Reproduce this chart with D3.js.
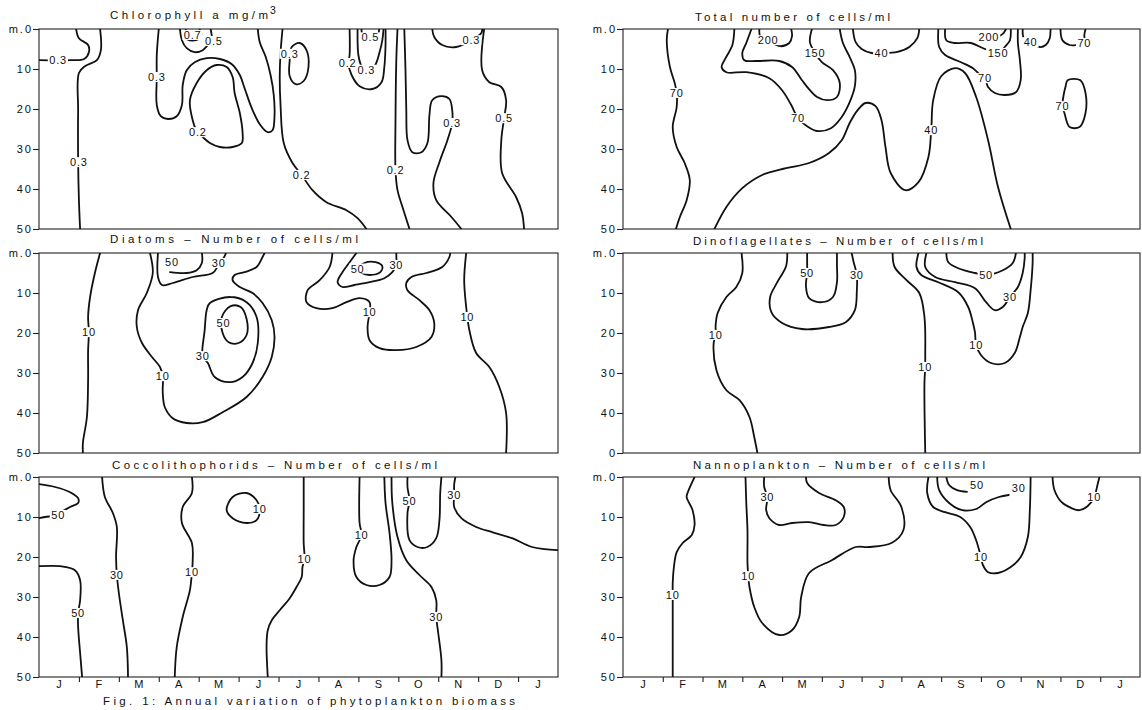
<!DOCTYPE html>
<html>
<head>
<meta charset="utf-8">
<script src="https://cdn.jsdelivr.net/npm/d3@7"></script>
<style>
  body { margin: 0; background: #fff; }
  svg { display: block; }
  text { font-family: "Liberation Sans", Arial, sans-serif; fill: #111; }
</style>
</head>
<body>
<svg id="fig" width="1142" height="710"></svg>
<script>
// x = months since 1 January (0..13), y = depth in metres (0..50)
var months = ["J", "F", "M", "A", "M", "J", "J", "A", "S", "O", "N", "D", "J"];
var depthTicks = [0, 10, 20, 30, 40, 50];
var depthLabels = ["m.0", "10", "20", "30", "40", "50"];
var dinoDepthLabels = ["m.0", "10", "20", "30", "40", "0"];

// every isoline: [value, points [month, depth], label position [month, depth], closed]
var chlorophyll = [
  ["0.3", [[0.93,0],[1.0,2.3],[1.23,4],[1.25,5.8],[1.13,7.5],[0.78,7.8],[0,7.8]], [0.48,7.8], false],
  ["0.3", [[1.53,0],[1.55,5.3],[1.45,7.8],[1.15,9.3],[1.0,11],[0.98,20.3],[0.98,32.8],[1.0,42.8],[1.03,50]], [1.0,33.3], false],
  ["0.7", [[3.68,0],[3.64,1.5],[3.72,2.6],[3.85,2.9],[4.0,2.5],[4.07,1.3],[4.02,0]], [3.85,1.5], false],
  ["0.5", [[3.53,0],[3.58,2.8],[3.7,4.8],[3.9,5.8],[4.1,5.3],[4.23,4],[4.33,2.8],[4.32,1.2],[4.3,0]], [4.38,3.0], false],
  ["0.3", [[3.0,0],[2.95,6.5],[2.95,12],[2.95,19],[3.05,21.8],[3.23,22.5],[3.45,21.8],[3.58,19],[3.6,14],[3.7,10.3],[3.9,8.3],[4.2,7.3],[4.53,7.5],[4.83,8.8],[5.03,11.5],[5.15,14.8],[5.33,19.8],[5.53,23.8],[5.73,25.8],[5.85,25.3],[5.9,21.5],[5.88,16.5],[5.8,11.5],[5.68,7],[5.53,3.3],[5.48,0]], [2.95,12], false],
  ["0.2", [[3.83,22],[3.78,17.8],[3.95,13.5],[4.2,10.3],[4.45,9],[4.7,9.5],[4.85,12],[4.9,16],[5.03,21],[5.1,26],[5.08,28.5],[4.85,29.5],[4.53,29.5],[4.28,28.5],[4.1,27],[3.95,25.5]], [3.98,25.8], true],
  ["0.2", [[6.1,0],[6.05,6],[6.03,12],[6.05,19],[6.13,28.5],[6.35,33.5],[6.58,36.5],[6.85,40.3],[7.2,43.3],[7.7,45.3],[7.98,47.3],[8.2,50]], [6.58,36.5], false],
  ["0.3", [[6.28,7.8],[6.33,4.5],[6.53,3.5],[6.7,5.3],[6.75,9.5],[6.63,13],[6.43,13.8],[6.28,11.8]], [6.28,6.2], true],
  ["0.2", [[7.78,0],[7.78,6.5],[7.75,8.5],[7.83,11.5],[8.03,14.3],[8.35,15],[8.58,13.3],[8.65,9.5],[8.68,4],[8.68,0]], [7.73,8.5], false],
  ["0.3", [[7.98,0],[8.0,6.5],[8.08,9.3],[8.18,10.3],[8.4,9.3],[8.53,5.8],[8.6,2.8],[8.63,0]], [8.2,10.2], false],
  ["0.5", [[8.08,0],[8.1,1.6],[8.22,2.6],[8.4,2.4],[8.5,1.2],[8.52,0]], [8.3,2.1], false],
  ["0.2", [[8.98,0],[8.95,7.8],[8.93,22.8],[8.93,35.3],[8.98,40.3],[9.13,45.3],[9.28,50]], [8.93,35.3], false],
  ["0.3", [[9.15,0],[9.18,10.3],[9.2,20.3],[9.23,27.8],[9.35,30.8],[9.58,30.8],[9.73,28.5],[9.78,21.5],[9.85,17.8],[10.08,16.8],[10.28,17.5],[10.35,20.3],[10.35,23.5],[10.23,27.8],[10.03,33.3],[9.88,38.5],[9.95,42.8],[10.33,47],[10.58,50]], [10.35,23.5], false],
  ["0.3", [[9.85,0],[9.9,2],[10.1,4],[10.45,4.5],[10.83,2.8],[11.08,1],[11.1,0]], [10.83,2.8], false],
  ["0.5", [[11.15,0],[11.1,10.3],[11.28,13.3],[11.58,14.5],[11.7,17.8],[11.65,22.3],[11.58,27.8],[11.6,36],[11.95,42],[12.1,46],[12.15,50]], [11.65,22.3], false]
];

var total = [
  ["70", [[1.13,0],[1.1,2.8],[1.18,9.5],[1.3,13.5],[1.35,16],[1.35,19.5],[1.25,24.5],[1.35,29.5],[1.55,33.5],[1.68,37.8],[1.6,42.8],[1.43,47],[1.33,50]], [1.35,16], false],
  ["40", [[2.3,50],[2.6,44.5],[3.0,39.8],[3.5,36.5],[4.1,34.8],[4.68,33.5],[5.18,31],[5.5,27.8],[5.7,23.5],[5.9,20.3],[6.1,18.5],[6.35,19.3],[6.5,22.8],[6.6,29.5],[6.73,36],[7.1,40.3],[7.43,38.3],[7.68,32],[7.75,25.3],[7.8,17.8],[8.0,11.8],[8.35,9.8],[8.6,11],[8.88,17],[9.18,27.8],[9.43,39.5],[9.75,50]], [7.75,25.3], false],
  ["70", [[2.8,0],[2.75,4],[2.58,7.3],[2.48,9.5],[2.6,10.8],[3.1,10.8],[3.68,12.3],[4.0,15.3],[4.23,19],[4.4,22.3],[4.63,24.3],[4.88,25.5],[5.23,24.8],[5.5,22],[5.7,18.3],[5.83,14.3],[5.83,10.3],[5.7,7],[5.53,3.5],[5.45,0]], [4.4,22.3], false],
  ["150", [[4.75,0],[4.7,3.3],[4.83,6],[5.0,8.3],[5.28,10.3],[5.45,13.5],[5.38,17],[5.13,17.8],[4.88,17],[4.7,15.3],[4.5,12.8],[4.25,9.5],[3.93,8],[3.35,8],[3.05,7.8],[3.0,6],[3.1,3.5],[3.23,0]], [4.83,6], false],
  ["200", [[3.43,0],[3.45,1.8],[3.65,2.8],[3.95,4.3],[4.18,3.5],[4.25,1.8],[4.23,0]], [3.65,2.8], false],
  ["40", [[5.78,0],[5.85,3.3],[6.0,5],[6.25,6],[6.5,6],[6.88,5.8],[7.2,4.5],[7.4,2.3],[7.45,0]], [6.5,6], false],
  ["70", [[7.93,0],[7.95,4.5],[8.1,6.5],[8.5,8.3],[8.8,9.8],[8.98,11.5],[9.1,12.3],[9.18,14.5],[9.35,16],[9.6,16.5],[9.88,15.8],[10.0,12.8],[9.98,7.8],[9.93,3.5],[9.93,0]], [9.1,12.3], false],
  ["150", [[8.1,0],[8.13,2.8],[8.35,3.5],[8.75,3.5],[9.1,5],[9.43,6],[9.6,4.5],[9.73,2.8],[9.75,0]], [9.43,6], false],
  ["200", [[9.1,2.2],[9.35,2.2],[9.55,1.2],[9.63,0]], [9.2,2], false],
  ["40", [[10.05,0],[10.08,2.3],[10.25,3.3],[10.48,4.5],[10.63,4],[10.73,2.3],[10.75,0]], [10.25,3.3], false],
  ["70", [[11.0,0],[11.05,2.8],[11.23,4],[11.4,4],[11.6,3.5],[11.6,1.5],[11.63,0]], [11.6,3.5], false],
  ["70", [[11.18,12.8],[11.5,12.8],[11.63,16],[11.63,21],[11.48,24.5],[11.23,24.5],[11.1,21],[11.05,19.3],[11.08,16.5],[11.13,14.3]], [11.05,19.3], true]
];

var diatoms = [
  ["10", [[1.53,0],[1.4,5],[1.28,11],[1.23,16],[1.25,19.8],[1.23,24.3],[1.23,31.8],[1.2,41],[1.1,47.5],[1.1,50]], [1.25,19.8], false],
  ["10", [[2.78,0],[2.85,5],[2.7,10],[2.48,14.3],[2.45,18.5],[2.58,22.5],[2.83,26],[3.03,28.5],[3.1,30.8],[3.1,35],[3.15,38.5],[3.35,41.3],[3.7,42.5],[4.1,42.3],[4.6,39.8],[5.2,36],[5.6,31],[5.83,26],[5.9,21],[5.83,16.8],[5.6,12.5],[5.35,10],[5.03,8.5],[4.85,6.8],[4.9,5.5],[5.15,4.8],[5.45,3.5],[5.6,1],[5.65,0]], [3.1,30.8], false],
  ["30", [[2.98,0],[2.98,6],[3.08,8],[3.35,7.5],[3.85,6],[4.35,5],[4.48,3.3],[4.65,0.8],[4.68,0]], [4.5,2.5], false],
  ["50", [[3.28,4.8],[3.7,5],[3.95,4.3],[4.08,2.5],[4.08,0]], [3.33,2.3], false],
  ["30", [[4.28,12.5],[4.78,11],[5.2,12.3],[5.45,16],[5.48,22.5],[5.35,27.5],[5.1,31],[4.78,32.3],[4.4,31],[4.23,27.5],[4.1,25.8],[4.15,19.3],[4.2,14.3]], [4.1,25.8], true],
  ["50", [[4.58,16],[4.8,13.3],[5.05,13.5],[5.2,16.5],[5.2,20.5],[5.0,22.5],[4.75,22.3],[4.6,20]], [4.62,17.5], true],
  ["10", [[7.35,0],[7.28,3.5],[7.03,6.8],[6.73,9.3],[6.7,12.3],[6.95,13.8],[7.35,13.8],[7.7,12.3],[8.03,11.3],[8.28,12.3],[8.28,14.8],[8.23,18.5],[8.28,21.8],[8.53,23.8],[8.95,24.3],[9.45,23.5],[9.83,21],[9.9,17.5],[9.78,14.3],[9.53,11.8],[9.23,9.3],[9.2,7.5],[9.33,6],[9.7,5],[10.1,3.5],[10.28,1],[10.3,0]], [8.28,14.8], false],
  ["30", [[7.95,0],[7.78,2.3],[7.6,4.8],[7.48,7.3],[7.6,8.5],[7.9,8],[8.28,7.3],[8.65,6.3],[8.85,4.8],[8.95,3],[8.95,0.8],[8.95,0]], [8.95,3], false],
  ["50", [[8.15,2.5],[8.43,2.3],[8.6,3.3],[8.55,4.8],[8.28,5.5],[8.08,5],[7.98,4]], [7.98,3.9], true],
  ["10", [[10.7,0],[10.65,6.8],[10.7,13.5],[10.73,16],[10.78,19.3],[10.95,25],[11.28,28.5],[11.53,33.5],[11.7,40],[11.7,50]], [10.73,16], false]
];

var dino = [
  ["10", [[2.98,0],[3.0,5],[2.85,8.5],[2.6,11],[2.38,15],[2.33,18],[2.33,20.5],[2.28,22.5],[2.35,29.3],[2.6,34.3],[2.93,36.8],[3.18,41],[3.3,46],[3.38,50]], [2.33,20.5], false],
  ["30", [[4.13,0],[4.1,3.3],[3.88,7.3],[3.7,11],[3.73,14.8],[4.0,17.5],[4.5,19],[5.18,18.5],[5.6,17.3],[5.83,14.3],[5.88,9.3],[5.88,5.5],[5.8,2.3],[5.75,0]], [5.88,5.5], false],
  ["50", [[4.63,0],[4.63,2.3],[4.63,5],[4.6,8.3],[4.68,11.3],[5.0,12.3],[5.28,11],[5.38,7.3],[5.38,3],[5.38,0]], [4.63,5], false],
  ["10", [[6.78,0],[6.83,3.5],[7.13,6.8],[7.45,10],[7.58,16],[7.6,26],[7.6,28.5],[7.58,32.5],[7.6,50]], [7.6,28.5], false],
  ["10", [[7.43,0],[7.38,3.5],[7.5,5.5],[7.93,7.3],[8.43,9.8],[8.68,13.5],[8.8,17.5],[8.85,19.8],[8.88,23],[9.0,25.5],[9.25,27.5],[9.6,27.5],[9.85,25],[9.98,21],[10.05,18.5],[10.18,15],[10.25,9.3],[10.3,2.5],[10.3,0]], [8.88,23], false],
  ["30", [[7.63,0],[7.6,3.5],[7.85,6],[8.35,7.3],[8.85,8.8],[9.13,12.3],[9.35,14.3],[9.55,13.5],[9.73,11],[9.93,8.5],[10.05,5],[10.1,1.3],[10.1,0]], [9.73,11], false],
  ["50", [[8.13,0],[8.18,2.3],[8.43,3.8],[8.85,5],[9.13,5.5],[9.55,4.3],[9.8,2.5],[9.88,0]], [9.13,5.5], false]
];

var cocco = [
  ["50", [[0,1.8],[0.4,2.5],[0.78,3.8],[0.98,5.3],[0.98,6.5],[0.78,7.5],[0.6,8.5],[0.48,9.5],[0.15,10],[0,10.3]], [0.48,9.5], false],
  ["50", [[0,22.3],[0.53,22.3],[0.9,23.3],[1.03,25.8],[1.03,30.8],[0.98,34],[0.98,37.5],[1.03,44],[1.08,50]], [0.98,34], false],
  ["30", [[1.58,0],[1.65,5],[1.85,9],[1.95,12.5],[1.93,20],[1.95,24.5],[2.0,29],[2.1,35.8],[2.2,42.5],[2.23,50]], [1.95,24.5], false],
  ["10", [[3.83,0],[3.83,4],[3.6,7.5],[3.58,11.5],[3.83,16.5],[3.85,20.8],[3.83,23.8],[3.78,28.3],[3.6,35],[3.45,42.5],[3.4,50]], [3.83,23.8], false],
  ["10", [[4.7,8.3],[4.85,5],[5.2,4],[5.45,5.8],[5.53,8],[5.45,10.8],[5.2,11.5],[4.85,10.3]], [5.53,8], true],
  ["10", [[5.73,50],[5.7,42],[5.73,38.3],[5.83,35.8],[6.03,33.3],[6.28,30.3],[6.45,27.5],[6.58,25],[6.6,22.5],[6.65,20.5],[6.63,16.5],[6.63,8.3],[6.63,0]], [6.65,20.5], false],
  ["10", [[8.03,0],[8.03,11.5],[8.08,14.5],[7.95,17.5],[7.88,20.8],[7.95,25],[8.2,27],[8.53,27],[8.78,25],[8.83,20.8],[8.78,14],[8.68,6.5],[8.65,0]], [8.08,14.5], false],
  ["30", [[8.83,0],[8.85,6.5],[8.98,15],[9.2,20.8],[9.53,24.5],[9.83,27.5],[9.95,30.8],[9.95,35],[10.0,39],[10.08,45.8],[10.08,50]], [9.95,35], false],
  ["50", [[9.23,0],[9.23,2.5],[9.28,6],[9.23,9],[9.28,15.8],[9.48,17.5],[9.73,17.5],[9.95,15.3],[10.03,10.8],[10.05,4],[10.08,0]], [9.28,6], false],
  ["30", [[10.43,0],[10.4,1.8],[10.4,4.5],[10.4,7.5],[10.58,10.3],[10.95,12.5],[11.35,13.8],[11.85,15.3],[12.35,17.5],[13,18.3]], [10.4,4.5], false]
];

var nanno = [
  ["10", [[1.8,0],[1.63,3.8],[1.6,5],[1.75,8.3],[1.8,12],[1.73,14.5],[1.5,16.5],[1.35,18.8],[1.28,22.5],[1.25,26.5],[1.25,29.5],[1.25,32.5],[1.25,42.5],[1.25,50]], [1.25,29.5], false],
  ["10", [[3.08,0],[3.1,6.5],[3.13,13.3],[3.13,21.5],[3.15,24.8],[3.18,27.5],[3.3,32.5],[3.5,36.5],[3.93,39.5],[4.25,38.3],[4.43,35],[4.48,30],[4.68,24],[5.25,20.8],[5.85,17.5],[6.18,17.5],[6.75,16.5],[7.05,13.3],[7.0,7.5],[6.73,3.3],[6.68,0]], [3.15,24.8], false],
  ["30", [[3.55,0],[3.55,2.5],[3.63,5],[3.6,8.3],[3.68,10.3],[3.93,12],[4.25,11.5],[4.68,11.3],[5.05,12],[5.35,12],[5.55,10],[5.55,7.5],[5.35,5.8],[4.93,4],[4.63,1.5],[4.6,0]], [3.63,5], false],
  ["50", [[8.13,0],[8.2,2],[8.4,3.3],[8.65,3.7]], [8.9,1.9], false],
  ["30", [[7.9,0],[7.95,3.3],[8.2,6.5],[8.53,8.3],[8.88,8],[9.13,6.3],[9.45,5],[9.7,4.5]], [9.95,2.7], false],
  ["10", [[7.68,0],[7.65,4],[7.8,7.5],[8.1,8.8],[8.48,10],[8.73,12.5],[8.88,15.8],[9.0,20],[9.05,22],[9.18,23.8],[9.43,24],[9.75,22.5],[10.0,20],[10.18,15],[10.23,8.3],[10.25,0]], [9.0,20], false],
  ["10", [[10.8,0],[10.85,3.3],[11.03,6.3],[11.28,7.8],[11.48,8.3],[11.68,7.3],[11.85,5],[11.93,2],[11.98,0]], [11.85,5], false]
];

var panels = [
  {lines: chlorophyll, x: 39, y: 29, w: 519, title: "Chlorophyll a mg/m", tx: 110, ty: 19, tw: 158, sup: "3"},
  {lines: total, x: 623, y: 29, w: 517, title: "Total number of cells/ml", tx: 695, ty: 21, tw: 195},
  {lines: diatoms, x: 39, y: 253, w: 519, title: "Diatoms \u2013 Number of cells/ml", tx: 110, ty: 243, tw: 248},
  {lines: dino, x: 623, y: 253, w: 517, title: "Dinoflagellates \u2013 Number of cells/ml", tx: 693, ty: 245, tw: 290, depth: dinoDepthLabels},
  {lines: cocco, x: 39, y: 477, w: 519, title: "Coccolithophorids \u2013 Number of cells/ml", tx: 112, ty: 469, tw: 325, months: true},
  {lines: nanno, x: 623, y: 477, w: 517, title: "Nannoplankton \u2013 Number of cells/ml", tx: 693, ty: 469, tw: 292, months: true}
];

var H = 200;
var svg = d3.select("#fig");
var defs = svg.append("defs");

panels.forEach(function(p, k) {
    var x = d3.scaleLinear().domain([0, 13]).range([0, p.w]);
    var y = d3.scaleLinear().domain([0, 50]).range([0, H]);
    var labels = p.depth || depthLabels;

    // title
    svg.append("text")
        .attr("x", p.tx).attr("y", p.ty)
        .attr("textLength", p.tw).attr("lengthAdjust", "spacing")
        .style("font-size", "11.5px")
        .text(p.title);
    if (p.sup) {
        svg.append("text")
            .attr("x", p.tx + p.tw + 2).attr("y", p.ty - 5)
            .style("font-size", "10.5px")
            .text(p.sup);
    }

    var g = svg.append("g").attr("transform", "translate(" + p.x + "," + p.y + ")");

    defs.append("clipPath").attr("id", "clip" + k)
        .append("rect").attr("width", p.w).attr("height", H);

    // depth axis
    var ya = g.append("g").call(d3.axisLeft(y)
        .tickValues(depthTicks)
        .tickFormat(function(d, i) { return labels[i]; })
        .tickSize(6).tickPadding(2));
    ya.select(".domain").remove();
    ya.selectAll("line").attr("stroke", "#222").attr("stroke-width", 1.1);
    ya.selectAll("text")
        .attr("x", -6)
        .style("font-family", "'Liberation Sans', Arial, sans-serif")
        .style("font-size", "11px")
        .style("letter-spacing", "2px")
        .attr("fill", "#111");

    // month axis on the bottom row
    if (p.months) {
        var xa = g.append("g").attr("transform", "translate(0," + H + ")")
            .call(d3.axisBottom(x).tickValues(d3.range(1, 13)).tickSize(5).tickFormat(""));
        xa.select(".domain").remove();
        xa.selectAll("line").attr("stroke", "#222").attr("stroke-width", 1.1);
        g.selectAll(".month")
            .data(months)
            .enter().append("text")
            .attr("class", "month")
            .attr("x", function(d, i) { return x(i + 0.5); })
            .attr("y", H + 11)
            .attr("text-anchor", "middle")
            .style("font-size", "11px")
            .text(function(d) { return d; });
    }

    // frame
    g.append("rect")
        .attr("width", p.w).attr("height", H)
        .attr("fill", "none").attr("stroke", "#222").attr("stroke-width", 1.1);

    var open = d3.line()
        .x(function(d) { return x(d[0]); })
        .y(function(d) { return y(d[1]); })
        .curve(d3.curveCatmullRom.alpha(0.5));
    var closed = d3.line()
        .x(function(d) { return x(d[0]); })
        .y(function(d) { return y(d[1]); })
        .curve(d3.curveCatmullRomClosed.alpha(0.5));

    g.append("g").attr("clip-path", "url(#clip" + k + ")")
        .selectAll("path")
        .data(p.lines)
        .enter().append("path")
        .attr("d", function(d) { return (d[3] ? closed : open)(d[1]); })
        .attr("fill", "none")
        .attr("stroke", "#111")
        .attr("stroke-width", 1.8)
        .attr("stroke-linejoin", "round")
        .attr("stroke-linecap", "round");

    // isoline labels sit on a white patch that breaks the line
    var lab = g.append("g");
    p.lines.forEach(function(d) {
        var t = lab.append("text")
            .attr("x", x(d[2][0]))
            .attr("y", y(d[2][1]))
            .attr("dy", "0.36em")
            .attr("text-anchor", "middle")
            .style("font-size", "11px")
            .style("letter-spacing", "0.8px")
            .text(d[0]);
        var b = t.node().getBBox();
        lab.insert("rect", function() { return t.node(); })
            .attr("x", b.x - 1.5).attr("y", b.y + 1)
            .attr("width", b.width + 2.5).attr("height", b.height - 2)
            .attr("fill", "#fff");
    });
});

svg.append("text")
    .attr("x", 103).attr("y", 705)
    .attr("textLength", 412).attr("lengthAdjust", "spacing")
    .style("font-size", "11.5px")
    .text("Fig. 1: Annual variation of phytoplankton biomass");
</script>
</body>
</html>
